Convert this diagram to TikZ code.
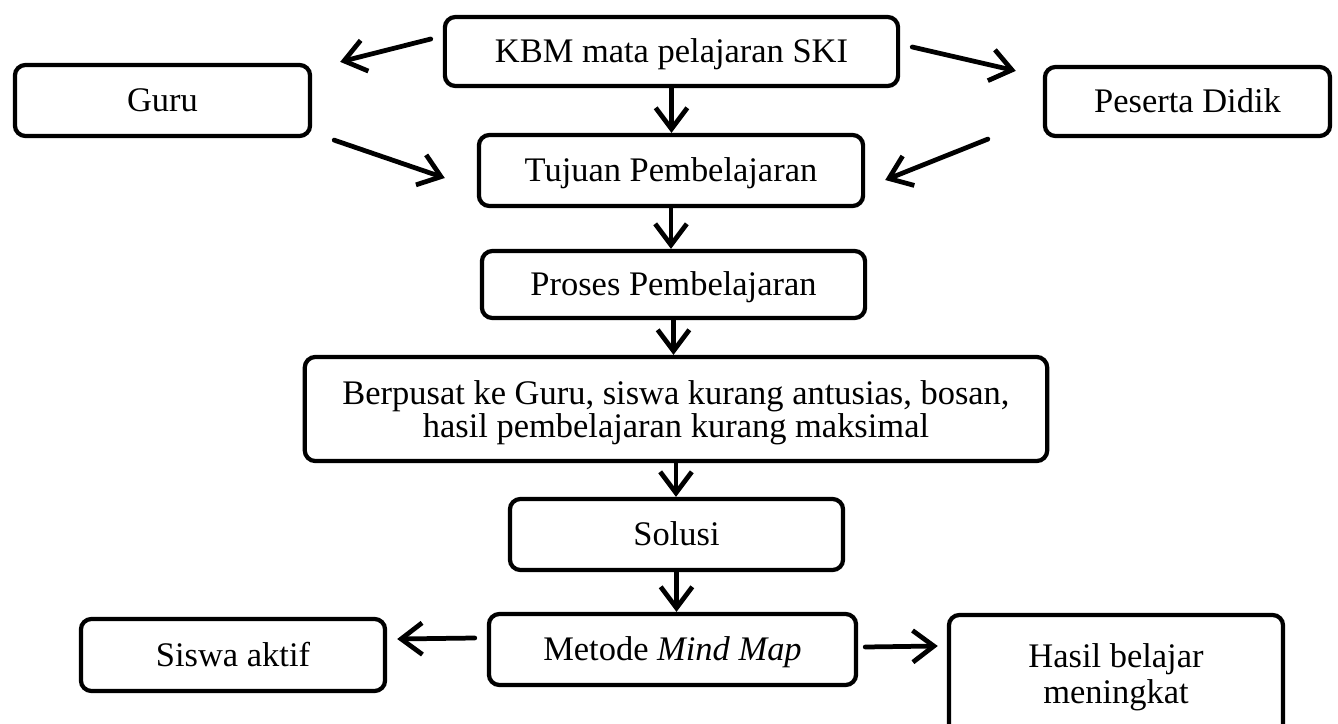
\documentclass[tikz,border=0pt]{standalone}
\usepackage{fontspec}
\setmainfont{Liberation Serif}
\usetikzlibrary{arrows.meta}

\begin{document}
\begin{tikzpicture}[x=0.01cm, y=-0.01cm,
	box/.style={draw, line width=1.2pt, rounded corners=3pt, align=center, inner sep=0pt, text height=6.4pt, text depth=0pt, font=\fontsize{9.8}{9.6}\selectfont},
	arr/.style={line width=1.35pt, line cap=round, -{Straight Barb[length=6pt, width=9pt]}}]
	\path[use as bounding box, clip] (0,0) rectangle (1338,724);
	\node[box, minimum width=4.53cm, minimum height=0.69cm] (kbm) at (671.5,51.5) {KBM mata pelajaran SKI};
	\node[box, minimum width=2.95cm, minimum height=0.71cm] (guru) at (162.5,100.5) {Guru};
	\node[box, minimum width=2.85cm, minimum height=0.69cm] (peserta) at (1187.5,101.5) {Peserta Didik};
	\node[box, minimum width=3.84cm, minimum height=0.71cm] (tujuan) at (671,170.5) {Tujuan Pembelajaran};
	\node[box, minimum width=3.83cm, minimum height=0.67cm] (proses) at (673.5,284.5) {Proses Pembelajaran};
	\node[box, minimum width=7.42cm, minimum height=1.04cm, text height=16.4pt, font=\fontsize{9.8}{9.4}\selectfont] (berpusat) at (676,409) {Berpusat ke Guru, siswa kurang antusias, bosan,\\ hasil pembelajaran kurang maksimal};
	\node[box, minimum width=3.33cm, minimum height=0.71cm] (solusi) at (676.5,534.5) {Solusi};
	\node[box, minimum width=3.67cm, minimum height=0.71cm] (metode) at (672.5,649.5) {Metode \textit{Mind Map}};
	\node[box, minimum width=3.04cm, minimum height=0.72cm] (siswa) at (233,655) {Siswa aktif};
	\node[box, minimum width=3.34cm, minimum height=1.21cm, text height=16.2pt, font=\fontsize{9.8}{10.5}\selectfont] (hasil) at (1116,675.5) {Hasil belajar\\ meningkat};
	\draw[arr] ([shift={(-12,-12.5)}]kbm.west) -- ([shift={(28,-1)}]guru.north east);
	\draw[arr] ([shift={(12,-4.5)}]kbm.east) -- ([shift={(-27,6)}]peserta.north west);
	\draw[arr] ([shift={(22,2)}]guru.south east) -- ([shift={(-32,7.5)}]tujuan.west);
	\draw[arr] ([shift={(-55,1)}]peserta.south west) -- ([shift={(20,9.5)}]tujuan.east);
	\draw[arr] (kbm.south) -- (kbm.south |- tujuan.north);
	\draw[arr] (tujuan.south) -- (tujuan.south |- proses.north);
	\draw[arr] (proses.south) -- (proses.south |- berpusat.north);
	\draw[arr] (berpusat.south) -- (berpusat.south |- solusi.north);
	\draw[arr] (solusi.south) -- (solusi.south |- metode.north);
	\draw[arr] ([shift={(-12,-11.5)}]metode.west) -- ([shift={(10,-16)}]siswa.east);
	\draw[arr] ([shift={(7,-2.5)}]metode.east) -- ([shift={(-9,-29.5)}]hasil.west);
\end{tikzpicture}
\end{document}
